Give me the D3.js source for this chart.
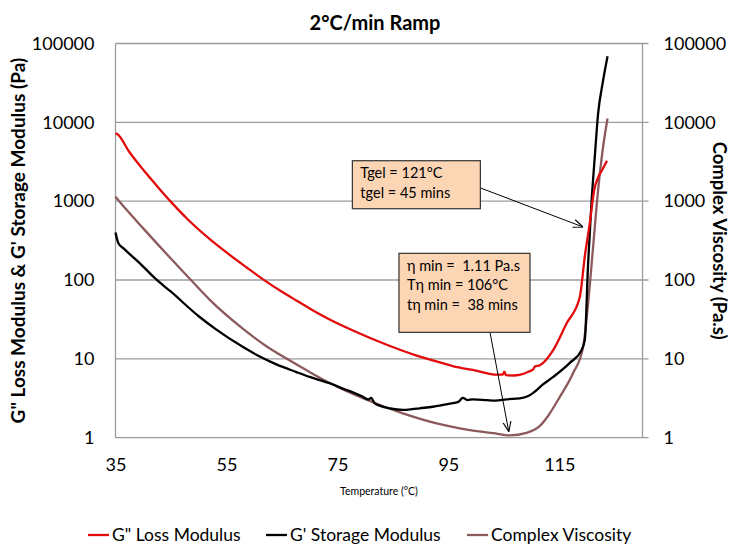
<!DOCTYPE html>
<html>
<head>
<meta charset="utf-8">
<script src="https://cdn.jsdelivr.net/npm/d3@7"></script>
<style>
  body { margin: 0; background: #fff; }
  text { font-family: Lato, "Open Sans", sans-serif; fill: #000; }
</style>
</head>
<body>
<svg id="chart" width="733" height="544"></svg>
<script>
// values (temperature in °C)
var lossTemp = [35, 35.3, 37.5, 40, 42.5, 45, 48, 52, 55, 58.6, 61.6, 65, 67.6, 70, 73.6, 77.8, 83.9, 89.3, 91.7, 95.8, 100, 103.7, 104.8, 105.1, 105.4, 106.7, 108, 109.5, 110.3, 110.6, 111.5, 113.9, 116.3, 118.7, 119.6, 120.5, 121.3, 122, 122.6, 123.6];
var lossModulus = [7250, 7100, 4200, 2500, 1550, 980, 590, 330, 224, 145, 102, 71, 55, 43.6, 31.6, 22.9, 15.1, 11.0, 9.8, 8.1, 7.1, 6.3, 6.3, 6.9, 6.2, 6.15, 6.3, 6.9, 7.4, 8.0, 8.3, 12.9, 28, 61, 200, 530, 1400, 2000, 2400, 3250];

var storageTemp = [35, 35.5, 36.5, 38, 40, 42, 45, 50, 53, 58, 61, 64, 67.6, 70, 73.6, 76, 78, 79.6, 80.6, 81.1, 81.6, 82.6, 84.5, 86.8, 88.5, 89.8, 92.2, 94, 95.8, 96.8, 97.6, 98.5, 99.4, 101.9, 103.5, 105.5, 107.9, 109.5, 110.3, 112, 113.9, 116.9, 119, 119.6, 120.2, 120.8, 121.4, 122, 122.8, 123.7];
var storageModulus = [400, 295, 250, 200, 148, 107, 71, 34.7, 24, 14.1, 10.7, 8.5, 6.8, 5.9, 4.9, 4.2, 3.7, 3.3, 3.05, 3.2, 2.8, 2.55, 2.35, 2.25, 2.3, 2.36, 2.47, 2.6, 2.75, 2.85, 3.2, 3.0, 3.07, 3.0, 2.95, 3.07, 3.16, 3.4, 3.7, 4.7, 5.9, 8.9, 12.9, 17.4, 165, 950, 3670, 13000, 31000, 69000];

var viscTemp = [35, 37, 40, 42, 44.8, 47.8, 52, 58, 62, 65.9, 70, 73.7, 79.6, 86.8, 92.9, 98.9, 103.1, 106.1, 109.1, 111.5, 113, 115.1, 117.5, 119.3, 120.2, 121.1, 122, 122.9, 123.7];
var complexViscosity = [1140, 776, 452, 316, 193, 115, 56, 24, 14.8, 10, 6.8, 4.9, 3.16, 2.04, 1.52, 1.25, 1.14, 1.07, 1.15, 1.41, 1.9, 3.3, 6.6, 14.2, 51, 265, 1390, 4900, 11200];

var xTicks = [35, 55, 75, 95, 115];
var yTicks = [1, 10, 100, 1000, 10000, 100000];

var seriesNames = ["G\" Loss Modulus", "G' Storage Modulus", "Complex Viscosity"];
var seriesColors = ["#e20a0a", "#000000", "#8c5a5c"];

// annotation anchors in data units
var gelNote = { lines: ["Tgel = 121°C", "tgel = 45 mins"], t: 77.7, v: 3260, w: 128, h: 48, fromT: 100.7, fromV: 1480, toT: 119.3, toV: 470 };
var etaNote = { lines: ["η min =  1.11 Pa.s", "Tη min = 106°C", "tη min =  38 mins"], t: 86.1, v: 218, w: 131, h: 79, fromT: 102.5, fromV: 21.9, toT: 105.9, toV: 1.19 };

var svg = d3.select("#chart");
var margin = {top: 43.5, right: 90.5, bottom: 106.3, left: 115.5},
    width = +svg.attr("width") - margin.left - margin.right,
    height = +svg.attr("height") - margin.top - margin.bottom,
    g = svg.append("g").attr("transform", "translate(" + margin.left + "," + margin.top + ")");

var x = d3.scaleLinear().domain([35, 130]).range([0, width]);
var y = d3.scaleLog().domain([1, 100000]).range([height, 0]);
var yRight = d3.scaleLog().domain([1, 100000]).range([height, 0]);

// gridlines
g.append("g")
    .selectAll("line")
    .data(yTicks)
    .enter().append("line")
      .attr("x1", 0)
      .attr("x2", width + 6)
      .attr("y1", function(d) { return y(d); })
      .attr("y2", function(d) { return y(d); })
      .attr("stroke", "#9c9c9c")
      .attr("stroke-width", 1.3);

// axis lines
g.append("line").attr("x1", 0).attr("x2", 0).attr("y1", 0).attr("y2", height)
    .attr("stroke", "#9c9c9c").attr("stroke-width", 1.3);
g.append("line").attr("x1", width).attr("x2", width).attr("y1", 0).attr("y2", height)
    .attr("stroke", "#9c9c9c").attr("stroke-width", 1.3);

// left tick labels
g.append("g")
    .call(d3.axisLeft(y).tickValues(yTicks).tickFormat(d3.format("d")).tickSize(0).tickPadding(21))
    .call(function(a) { a.select(".domain").remove(); })
    .selectAll("text")
      .style("font-size", "18px")
      .style("font-family", "Lato, sans-serif")
      .attr("fill", "#000");

// right tick labels
g.append("g")
    .attr("transform", "translate(" + width + ",0)")
    .call(d3.axisRight(yRight).tickValues(yTicks).tickFormat(d3.format("d")).tickSize(0).tickPadding(21))
    .call(function(a) { a.select(".domain").remove(); })
    .selectAll("text")
      .style("font-size", "18px")
      .style("font-family", "Lato, sans-serif")
      .attr("fill", "#000");

// bottom tick labels
g.append("g")
    .attr("transform", "translate(0," + height + ")")
    .call(d3.axisBottom(x).tickValues(xTicks).tickFormat(d3.format("d")).tickSize(0).tickPadding(21))
    .call(function(a) { a.select(".domain").remove(); })
    .selectAll("text")
      .style("font-size", "18px")
      .style("font-family", "Lato, sans-serif")
      .attr("fill", "#000");

// curves
function lineOf(ts, vs) {
  return d3.line()
    .x(function(d, i) { return x(ts[i]); })
    .y(function(d) { return y(d); })
    .curve(d3.curveMonotoneX)(vs);
}

var series = [[lossTemp, lossModulus], [storageTemp, storageModulus], [viscTemp, complexViscosity]];
var drawOrder = [2, 1, 0];
drawOrder.forEach(function(k) {
  g.append("path")
      .attr("d", lineOf(series[k][0], series[k][1]))
      .attr("fill", "none")
      .attr("stroke", seriesColors[k])
      .attr("stroke-width", 2.3)
      .attr("stroke-linejoin", "round");
});

// arrows + callouts
svg.append("defs").append("marker")
    .attr("id", "arrow")
    .attr("viewBox", "0 0 10 10")
    .attr("refX", 10).attr("refY", 5)
    .attr("markerWidth", 10).attr("markerHeight", 10)
    .attr("markerUnits", "userSpaceOnUse")
    .attr("orient", "auto")
  .append("path")
    .attr("d", "M0,1 L10,5 L0,9")
    .attr("fill", "none")
    .attr("stroke", "#000")
    .attr("stroke-width", 1.1);

[gelNote, etaNote].forEach(function(n) {
  g.append("line")
      .attr("x1", x(n.fromT)).attr("y1", y(n.fromV))
      .attr("x2", x(n.toT)).attr("y2", y(n.toV))
      .attr("stroke", "#000")
      .attr("stroke-width", 1)
      .attr("marker-end", "url(#arrow)");

  var box = g.append("g").attr("transform", "translate(" + x(n.t) + "," + y(n.v) + ")");
  box.append("rect")
      .attr("width", n.w)
      .attr("height", n.h)
      .attr("fill", "#fcd5b4")
      .attr("stroke", "#333")
      .attr("stroke-width", 1.2);
  box.selectAll("text")
      .data(n.lines)
      .enter().append("text")
        .attr("x", 8)
        .attr("y", function(d, i) { return 17.5 + i * 19.5; })
        .style("font-size", "14.5px")
        .style("white-space", "pre")
        .text(function(d) { return d; });
});

// titles
svg.append("text")
    .attr("x", 375)
    .attr("y", 30)
    .attr("text-anchor", "middle")
    .style("font-size", "20px")
    .style("font-weight", "bold")
    .text("2°C/min Ramp");

svg.append("text")
    .attr("transform", "translate(25," + (margin.top + height / 2) + ") rotate(-90)")
    .attr("text-anchor", "middle")
    .style("font-size", "19px")
    .style("font-weight", "bold")
    .text("G\" Loss Modulus & G' Storage Modulus (Pa)");

svg.append("text")
    .attr("transform", "translate(713," + (margin.top + height / 2) + ") rotate(90)")
    .attr("text-anchor", "middle")
    .style("font-size", "18.5px")
    .style("font-weight", "bold")
    .text("Complex Viscosity (Pa.s)");

svg.append("text")
    .attr("x", margin.left + width / 2)
    .attr("y", 495)
    .attr("text-anchor", "middle")
    .style("font-size", "10.5px")
    .text("Temperature (°C)");

// legend
var legendX = [88, 266, 467];
var legend = svg.append("g")
  .selectAll("g")
  .data(seriesNames)
  .enter().append("g")
    .attr("transform", function(d, i) { return "translate(" + legendX[i] + ",535)"; });

legend.append("line")
    .attr("x1", 0).attr("x2", 21)
    .attr("stroke", function(d, i) { return seriesColors[i]; })
    .attr("stroke-width", 2.3);

legend.append("text")
    .attr("x", 24)
    .attr("dy", "0.35em")
    .style("font-size", "17.5px")
    .text(function(d) { return d; });
</script>
</body>
</html>
